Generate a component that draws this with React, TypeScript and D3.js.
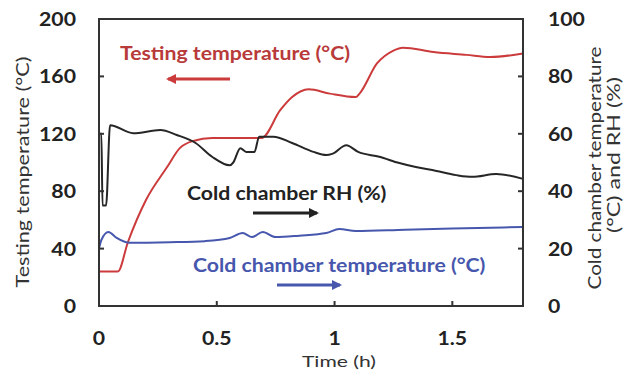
import React from "react";
import * as d3 from "d3";

const xTicks = [0, 0.5, 1, 1.5];
const leftTicks = [0, 40, 80, 120, 160, 200];
const rightTicks = [0, 20, 40, 60, 80, 100];

// Testing temperature (°C), left axis
const testingTemp: [number, number][] = [
  [0, 24], [0.08, 24], [0.123, 44.6], [0.2, 74], [0.29, 97], [0.343, 110], [0.4, 115],
  [0.48, 117], [0.69, 117], [0.77, 136.6], [0.82, 145.6], [0.89, 151], [0.98, 148],
  [1.09, 145.6], [1.106, 148], [1.18, 169], [1.25, 178], [1.29, 180], [1.42, 177],
  [1.56, 175], [1.66, 173.5], [1.8, 176],
];

// Cold chamber RH (%), right axis
const coldRH: [number, number][] = [
  [0, 60], [0.01, 60], [0.015, 35], [0.03, 35], [0.047, 63], [0.145, 60.2], [0.26, 61.3],
  [0.33, 59.6], [0.41, 56.8], [0.48, 52], [0.555, 49], [0.57, 50], [0.6, 55], [0.625, 53.7],
  [0.66, 53.7], [0.68, 59], [0.74, 59], [0.82, 56.8], [0.91, 53.7], [0.965, 52.6], [0.99, 53],
  [1.05, 56], [1.1, 53.7], [1.19, 52], [1.275, 49.8], [1.345, 48.4], [1.415, 47.4],
  [1.517, 45.6], [1.585, 45], [1.686, 46], [1.8, 44.3],
];

// Cold chamber temperature (°C), right axis
const coldTemp: [number, number][] = [
  [0, 20], [0.01, 23], [0.04, 25.8], [0.075, 23.7], [0.13, 22], [0.3, 22.2], [0.45, 22.6],
  [0.555, 23.7], [0.61, 25.4], [0.65, 24], [0.695, 25.8], [0.75, 24], [0.85, 24.5],
  [0.965, 25.4], [1.02, 26.8], [1.09, 26.1], [1.3, 26.6], [1.5, 27], [1.8, 27.5],
];

const W = 641, H = 372;
const L = 99, R = 523, T = 19, B = 306;
const font = "Lato, 'Open Sans', sans-serif";
const RED = "#cc3b3b";
const RED_TXT = "#b83a3a";
const BLUE = "#4757ad";
const BLACK = "#262626";
const SX = 1.18;

function SText(props: {
  x: number; y: number; sx?: number; anchor?: string; size: number; bold?: boolean; fill: string; children: React.ReactNode;
}) {
  const { x, y, sx = SX, anchor = "start", size, bold, fill, children } = props;
  return (
    <text transform={`translate(${x},${y}) scale(${sx},1)`} textAnchor={anchor} fontSize={size}
      fontWeight={bold ? "bold" : "normal"} fill={fill}>{children}</text>
  );
}

export default function App() {
  const x = d3.scaleLinear().domain([0, 1.8]).range([L, R]);
  const yL = d3.scaleLinear().domain([0, 200]).range([B, T]);
  const yR = d3.scaleLinear().domain([0, 100]).range([B, T]);
  const lineL = d3.line<[number, number]>().x(d => x(d[0])).y(d => yL(d[1])).curve(d3.curveMonotoneX);
  const lineR = d3.line<[number, number]>().x(d => x(d[0])).y(d => yR(d[1])).curve(d3.curveMonotoneX);

  const arrow = (x1: number, x2: number, y: number, color: string, id: string) => (
    <g>
      <defs>
        <marker id={id} viewBox="0 0 10 10" refX="8" refY="5" markerWidth="3.6" markerHeight="3.6" orient="auto">
          <path d="M0,0 L10,5 L0,10 z" fill={color} />
        </marker>
      </defs>
      <line x1={x1} y1={y} x2={x2} y2={y} stroke={color} strokeWidth={2.8} markerEnd={`url(#${id})`} />
    </g>
  );

  return (
    <svg width={W} height={H} style={{ position: "absolute", left: 0, top: 0, background: "#fff" }} fontFamily={font}>
      <rect x={0} y={0} width={W} height={H} fill="#fff" />
      {/* lines */}
      <path d={lineL(testingTemp) || ""} fill="none" stroke={RED} strokeWidth={2} />
      <path d={lineR(coldRH) || ""} fill="none" stroke={BLACK} strokeWidth={2} />
      <path d={lineR(coldTemp) || ""} fill="none" stroke={BLUE} strokeWidth={2} />
      {/* frame */}
      <rect x={L} y={T} width={R - L} height={B - T} fill="none" stroke="#333" strokeWidth={2} />
      {/* ticks */}
      {xTicks.filter(t => t > 0).map(t => (
        <line key={"xt" + t} x1={x(t)} x2={x(t)} y1={B} y2={B - 5} stroke="#333" strokeWidth={2} />
      ))}
      {leftTicks.filter(t => t > 0 && t < 200).map(t => (
        <line key={"lt" + t} x1={L} x2={L + 5} y1={yL(t)} y2={yL(t)} stroke="#333" strokeWidth={2} />
      ))}
      {rightTicks.filter(t => t > 0 && t < 100).map(t => (
        <line key={"rt" + t} x1={R} x2={R - 5} y1={yR(t)} y2={yR(t)} stroke="#333" strokeWidth={2} />
      ))}
      {/* tick labels */}
      {xTicks.map(t => (
        <SText key={"xl" + t} x={x(t)} y={345} anchor="middle" size={18} bold fill="#222">{t}</SText>
      ))}
      {leftTicks.map(t => (
        <SText key={"ll" + t} x={76} y={yL(t) + 7} anchor="end" size={18} bold fill="#222">{t}</SText>
      ))}
      {rightTicks.map(t => (
        <SText key={"rl" + t} x={548} y={yR(t) + 7} anchor="start" size={18} bold fill="#222">{t}</SText>
      ))}
      {/* axis titles */}
      <SText x={339} y={367} anchor="middle" size={16} sx={1.32} fill="#333">Time (h)</SText>
      <text transform={`translate(29,172) rotate(-90)`} textAnchor="middle" fontSize={18} fill="#333"
        textLength={231} lengthAdjust="spacingAndGlyphs">Testing temperature (°C)</text>
      <text transform={`translate(601,168) rotate(-90)`} textAnchor="middle" fontSize={18} fill="#333"
        textLength={243} lengthAdjust="spacingAndGlyphs">Cold chamber temperature</text>
      <text transform={`translate(620,155) rotate(-90)`} textAnchor="middle" fontSize={18} fill="#333"
        textLength={156} lengthAdjust="spacingAndGlyphs">(°C) and RH (%)</text>
      {/* annotations */}
      <SText x={120} y={60} size={18} bold fill={RED_TXT}>Testing temperature (°C)</SText>
      {arrow(230, 168, 79, RED, "ar")}
      <SText x={187} y={200} size={18} bold fill="#222">Cold chamber RH (%)</SText>
      {arrow(253, 317, 213, "#222", "ak")}
      <SText x={193} y={272} size={18} bold fill={BLUE}>Cold chamber temperature (°C)</SText>
      {arrow(277, 340, 285, BLUE, "ab")}
    </svg>
  );
}
